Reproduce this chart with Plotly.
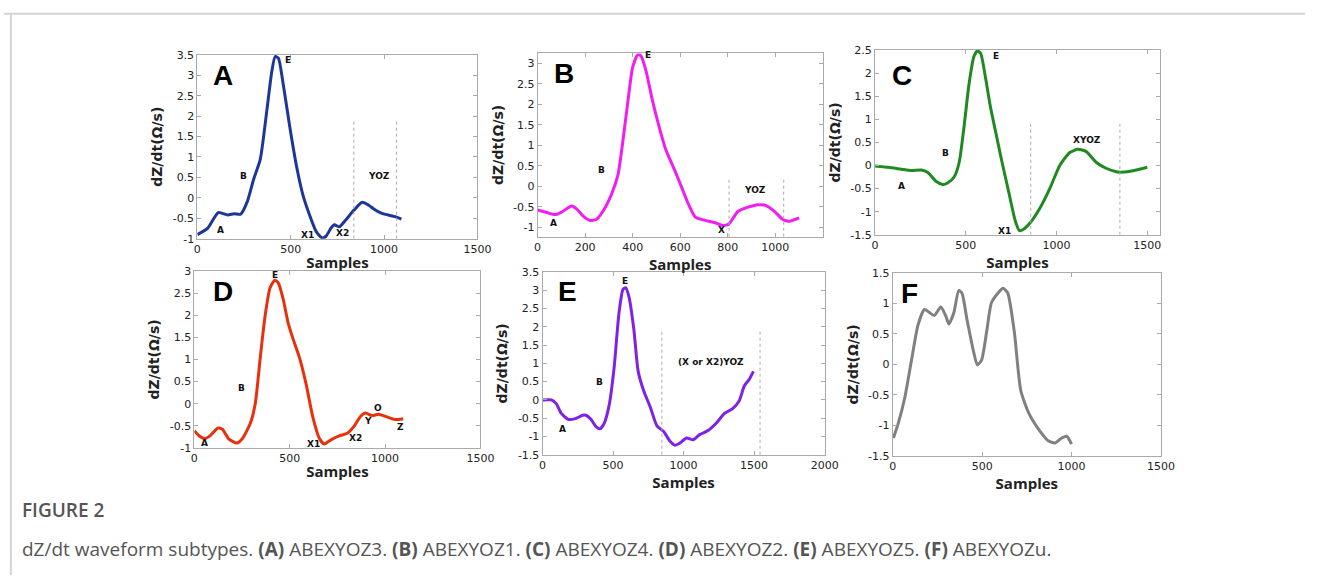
import plotly.graph_objects as go

W, H = 1319, 582

# ---------------- data ----------------
a_x = [0, 56, 112, 162, 197, 232, 267, 302, 337, 372, 399, 417, 434, 460, 495, 531, 566, 601, 636, 668, 689, 716, 734, 760, 795, 839, 883, 918, 953, 988, 1023, 1058, 1093]
a_y = [-0.9, -0.74, -0.36, -0.42, -0.39, -0.40, -0.1, 0.46, 0.94, 2.13, 3.1, 3.46, 3.42, 2.78, 1.74, 0.78, 0.06, -0.42, -0.82, -0.98, -0.94, -0.74, -0.66, -0.71, -0.54, -0.30, -0.11, -0.18, -0.30, -0.38, -0.42, -0.46, -0.52]

b_x = [0, 39, 74, 101, 143, 164, 192, 219, 247, 275, 310, 338, 358, 379, 400, 421, 435, 456, 483, 511, 539, 580, 608, 636, 664, 706, 747, 775, 803, 844, 886, 928, 962, 997, 1032, 1060, 1101]
b_y = [-0.58, -0.64, -0.69, -0.63, -0.48, -0.55, -0.73, -0.83, -0.81, -0.61, -0.21, 0.27, 1.06, 2.02, 2.90, 3.20, 3.18, 2.82, 2.10, 1.46, 0.90, 0.35, -0.05, -0.45, -0.75, -0.83, -0.89, -0.95, -0.93, -0.61, -0.51, -0.45, -0.47, -0.61, -0.81, -0.85, -0.77]

c_x = [0, 73, 145, 200, 255, 291, 336, 373, 400, 436, 464, 491, 518, 545, 564, 582, 609, 636, 664, 700, 736, 773, 796, 818, 855, 909, 964, 1018, 1073, 1118, 1164, 1218, 1273, 1336, 1400, 1500]
c_y = [-0.01, -0.04, -0.08, -0.11, -0.10, -0.15, -0.34, -0.41, -0.38, -0.25, 0.07, 0.85, 1.76, 2.36, 2.48, 2.43, 1.90, 1.27, 0.74, 0.07, -0.56, -1.20, -1.41, -1.38, -1.24, -0.92, -0.49, 0.00, 0.28, 0.35, 0.30, 0.07, -0.06, -0.14, -0.13, -0.04]

d_x = [0, 26, 55, 86, 124, 147, 181, 224, 250, 293, 319, 345, 371, 397, 422, 440, 466, 491, 517, 552, 586, 621, 655, 681, 716, 759, 802, 836, 871, 897, 931, 966, 1009, 1052, 1095]
d_y = [-0.61, -0.73, -0.79, -0.71, -0.55, -0.58, -0.80, -0.89, -0.80, -0.45, -0.01, 1.02, 1.99, 2.62, 2.79, 2.73, 2.36, 1.84, 1.47, 1.03, 0.44, -0.30, -0.78, -0.91, -0.82, -0.73, -0.67, -0.52, -0.29, -0.21, -0.27, -0.24, -0.30, -0.36, -0.34]

e_x = [0, 63, 98, 133, 180, 227, 285, 308, 343, 379, 407, 437, 472, 507, 542, 570, 589, 612, 647, 678, 717, 764, 811, 857, 904, 939, 974, 1021, 1068, 1114, 1173, 1231, 1290, 1348, 1395, 1430, 1465, 1495]
e_y = [0, 0, -0.11, -0.37, -0.53, -0.52, -0.42, -0.42, -0.53, -0.73, -0.79, -0.64, -0.15, 0.87, 2.38, 3.02, 3.07, 2.83, 1.94, 0.78, 0.25, -0.20, -0.71, -0.86, -1.13, -1.24, -1.18, -1.04, -1.09, -0.95, -0.84, -0.64, -0.37, -0.24, -0.02, 0.38, 0.56, 0.78]

f_x = [4, 31, 68, 104, 141, 177, 205, 232, 269, 296, 314, 342, 369, 387, 415, 452, 473, 497, 525, 552, 589, 616, 643, 680, 716, 762, 817, 872, 909, 945, 973, 1000]
f_y = [-1.21, -0.97, -0.54, 0.05, 0.64, 0.90, 0.85, 0.80, 0.94, 0.80, 0.66, 0.85, 1.21, 1.17, 0.74, 0.21, -0.01, 0.07, 0.53, 1.01, 1.17, 1.25, 1.17, 0.53, -0.43, -0.81, -1.07, -1.26, -1.29, -1.21, -1.18, -1.31]

# dotted interval markers: x positions and top value
a_marks, a_mark_top = [838, 1067], 1.86
b_marks, b_mark_top = [806, 1036], 0.19
c_marks, c_mark_top = [858, 1349], 0.9
e_marks, e_mark_top = [846, 1542], 1.88

# point labels (text, x, y)
a_lab = [("E", 487, 3.38), ("B", 246, 0.53), ("A", 123, -0.78), ("X1", 592, -0.9), ("X2", 777, -0.86), ("YOZ", 974, 0.53)]
b_lab = [("E", 465, 3.19), ("B", 268, 0.40), ("A", 67, -0.89), ("X", 772, -1.06), ("YOZ", 917, -0.1)]
c_lab = [("E", 664, 2.38), ("B", 391, 0.28), ("A", 145, -0.44), ("X1", 715, -1.41), ("XYOZ", 1167, 0.56)]
d_lab = [("E", 422, 2.91), ("B", 245, 0.36), ("A", 55, -0.89), ("X1", 624, -0.92), ("X2", 845, -0.78), ("Y", 910, -0.39), ("O", 962, -0.10), ("Z", 1083, -0.52)]
e_lab = [("E", 584, 3.26), ("B", 402, 0.50), ("A", 140, -0.79), ("(X or X2)YOZ", 1196, 1.03)]
f_lab = []

panels = [
    # letter, x, y, color, marks, marktop, labels, xrange, xticks, yrange, yticks, big letter pos, pixel box (x0,x1,y0,y1)
    ("A", a_x, a_y, "#1c3799", a_marks, a_mark_top, a_lab, [0, 1500], [0, 500, 1000, 1500], [-1, 3.5], [-1, -0.5, 0, 0.5, 1, 1.5, 2, 2.5, 3, 3.5], (140, 3.0), (196, 480, 50, 238)),
    ("B", b_x, b_y, "#f01ef0", b_marks, b_mark_top, b_lab, [0, 1200], [0, 200, 400, 600, 800, 1000], [-1.23, 3.25], [-1, -0.5, 0, 0.5, 1, 1.5, 2, 2.5, 3], (111, 2.74), (541, 830, 48, 236)),
    ("C", c_x, c_y, "#1f8a1f", c_marks, c_mark_top, c_lab, [0, 1570], [0, 500, 1000, 1500], [-1.5, 2.5], [-1.5, -1, -0.5, 0, 0.5, 1, 1.5, 2, 2.5], (151, 1.94), (883, 1172, 45, 234)),
    ("D", d_x, d_y, "#e8300c", [], 0, d_lab, [0, 1500], [0, 500, 1000, 1500], [-1, 3], [-1, -0.5, 0, 0.5, 1, 1.5, 2, 2.5, 3], (152, 2.54), (193, 483, 271, 452)),
    ("E", e_x, e_y, "#7d22e6", e_marks, e_mark_top, e_lab, [0, 2000], [0, 500, 1000, 1500, 2000], [-1.5, 3.5], [-1.5, -1, -0.5, 0, 0.5, 1, 1.5, 2, 2.5, 3, 3.5], (180, 2.97), (546, 832, 272, 459)),
    ("F", f_x, f_y, "#808080", [], 0, f_lab, [0, 1500], [0, 500, 1000, 1500], [-1.5, 1.5], [-1.5, -1, -0.5, 0, 0.5, 1, 1.5], (95, 1.17), (901, 1173, 273, 460)),
]

fig = go.Figure()
annotations = []
shapes = []

tickfont = dict(family="DejaVu Sans", size=11, color="#222")
titlefont = dict(family="Open Sans", size=15, color="#222", weight="bold")
ytitlefont = dict(family="DejaVu Sans", size=14, color="#222", weight="bold")

for i, (letter, xs, ys, col, marks, mtop, labs, xr, xt, yr, yt, big, box) in enumerate(panels):
    n = "" if i == 0 else str(i + 1)
    xa, ya = "x" + n, "y" + n
    x0, x1, y0, y1 = box
    fig.add_trace(go.Scatter(x=xs, y=ys, mode="lines", line=dict(color=col, width=3, shape="spline", smoothing=0.6),
                             xaxis=xa, yaxis=ya, showlegend=False, hoverinfo="skip"))
    for m in marks:
        fig.add_trace(go.Scatter(x=[m, m], y=[yr[0], mtop], mode="lines", line=dict(color="#aaa", width=1, dash="dot"),
                                 xaxis=xa, yaxis=ya, showlegend=False, hoverinfo="skip"))
    for (t, lx, ly) in labs:
        annotations.append(dict(x=lx, y=ly, xref=xa, yref=ya, text="<b>" + t + "</b>", showarrow=False,
                                font=dict(family="DejaVu Sans", size=9, color="#111")))
    annotations.append(dict(x=big[0], y=big[1], xref=xa, yref=ya, text="<b>" + letter + "</b>", showarrow=False,
                            font=dict(family="Liberation Sans", size=28, color="#000")))
    axcommon = dict(showgrid=False, zeroline=False, showline=True, linecolor="#aaa", linewidth=1, mirror="ticks",
                    ticks="inside", ticklen=4, tickcolor="#aaa", tickfont=tickfont)
    fig.layout["xaxis" + n] = dict(axcommon, domain=[x0 / W, x1 / W], range=xr, tickvals=xt,
                                   anchor=ya, title=dict(text="Samples", font=titlefont, standoff=2))
    fig.layout["yaxis" + n] = dict(axcommon, domain=[1 - y1 / H, 1 - y0 / H], range=yr, tickvals=yt,
                                   ticktext=[("%g" % v) for v in yt], anchor=xa,
                                   title=dict(text="dZ/dt(Ω/s)", font=ytitlefont, standoff=6))

# page frame
shapes.append(dict(type="line", xref="paper", yref="paper", x0=0, x1=1, y0=1 - 8 / H, y1=1 - 8 / H,
                   line=dict(color="#d4d4d4", width=2)))
shapes.append(dict(type="line", xref="paper", yref="paper", x0=7 / W, x1=7 / W, y0=0, y1=1 - 8 / H,
                   line=dict(color="#d4d4d4", width=2)))

annotations.append(dict(x=16 / W, y=1 - 516 / H, xref="paper", yref="paper", xanchor="left", yanchor="middle",
                        text="FIGURE 2", showarrow=False, font=dict(family="Open Sans", size=19, color="#555", weight=600)))
cap = ("dZ/dt waveform subtypes. <b>(A)</b> ABEXYOZ3. <b>(B)</b> ABEXYOZ1. <b>(C)</b> ABEXYOZ4. "
       "<b>(D)</b> ABEXYOZ2. <b>(E)</b> ABEXYOZ5. <b>(F)</b> ABEXYOZu.")
annotations.append(dict(x=16 / W, y=1 - 555 / H, xref="paper", yref="paper", xanchor="left", yanchor="middle",
                        text=cap, showarrow=False, font=dict(family="Open Sans", size=19, color="#555")))

fig.update_layout(width=W, height=H, margin=dict(l=0, r=0, t=0, b=0), paper_bgcolor="white",
                  plot_bgcolor="white", annotations=annotations, shapes=shapes, showlegend=False)

post = ("document.body.style.margin='0px';document.body.style.overflow='hidden';"
        "var gd=document.getElementById('{plot_id}');"
        "var r=gd.getBoundingClientRect();"
        "gd.style.position='relative';gd.style.top=(-r.top)+'px';gd.style.left=(-r.left)+'px';")
fig.write_html("out.html", config={"displayModeBar": False}, post_script=post)
